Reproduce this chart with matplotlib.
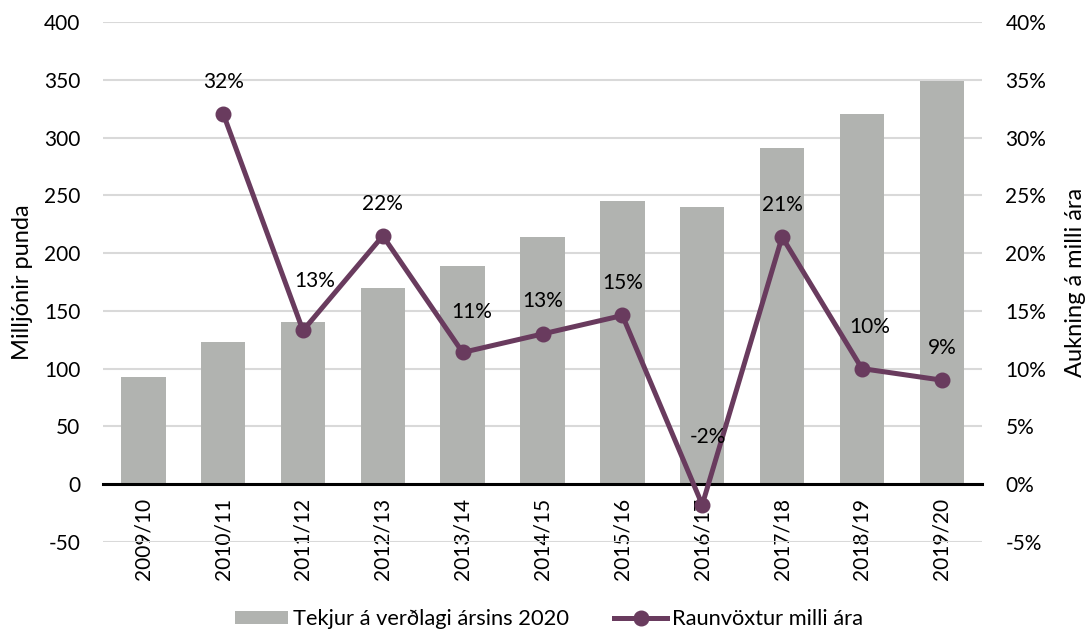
import matplotlib.pyplot as plt
import numpy as np
from matplotlib.ticker import FuncFormatter, MultipleLocator

plt.rcParams['font.family'] = ['Lato', 'DejaVu Sans']
plt.rcParams['axes.unicode_minus'] = False

years = ['2009/10', '2010/11', '2011/12', '2012/13', '2013/14', '2014/15',
         '2015/16', '2016/17', '2017/18', '2018/19', '2019/20']
# Tekjur (milljónir punda) á verðlagi 2020
revenue = [93, 123, 140, 170, 189, 214, 245, 240, 291, 321, 349]
# Raunvöxtur milli ára (%), ekkert gildi fyrir fyrsta árið
growth = [np.nan, 32.1, 13.3, 21.5, 11.4, 13.0, 14.6, -1.8, 21.4, 10.0, 9.0]

# label offsets above each point, in pixels
label_dx = [0, 0, 12, 0, 9, 0, 0, 6, 0, 8, 0]
label_dy = [0, 32, 49, 32, 40, 33, 32, 68, 32, 42, 32]

bar_color = '#B1B3B0'
line_color = '#693B5E'
fs = 15
fs_text = 15.75
fs_axis = 17

fig = plt.figure(figsize=(10.89, 6.32), dpi=100)
ax = fig.add_axes([0.0949, 0.1429, 0.8066, 0.8217])
ax2 = ax.twinx()

x = np.arange(len(years))
bars = ax.bar(x, revenue, width=0.557, color=bar_color, zorder=2,
              label='Tekjur á verðlagi ársins 2020')

ax.set_xlim(-0.5, len(years) - 0.5)
ax.set_ylim(-50, 400)
ax.yaxis.set_major_locator(MultipleLocator(50))
ax.grid(axis='y', color='#D9D9D9', linewidth=1.5, zorder=0)
ax.set_axisbelow(True)

for s in ['left', 'right', 'top']:
    ax.spines[s].set_visible(False)
ax.spines['bottom'].set_position(('data', 0))
ax.spines['bottom'].set_color('black')
ax.spines['bottom'].set_linewidth(2.2)
ax.spines['bottom'].set_zorder(3)

ax.set_xticks(x)
ax.set_xticklabels(years, rotation=90, fontsize=fs)
ax.tick_params(axis='x', length=0, pad=10)
ax.tick_params(axis='y', length=0, pad=16.5, labelsize=fs)

# right axis: growth in percent
line, = ax2.plot(x, growth, color=line_color, linewidth=3.6, marker='o',
                 markersize=10.5, zorder=4, label='Raunvöxtur milli ára')
ax2.set_ylim(-5, 40)
ax2.yaxis.set_major_locator(MultipleLocator(5))
ax2.yaxis.set_major_formatter(FuncFormatter(lambda v, p: f'{v:.0f}%'))
ax2.tick_params(axis='y', length=0, pad=17, labelsize=fs)
for s in ax2.spines.values():
    s.set_visible(False)

for xi, g, dx, dy in zip(x, growth, label_dx, label_dy):
    if np.isnan(g):
        continue
    ax2.annotate(f'{g:.0f}%', (xi, g), xytext=(dx, dy),
                 textcoords='offset pixels', ha='center', va='center',
                 fontsize=fs, zorder=5)

fig.text(23 / 1089, 1 - 282 / 632, 'Milljónir punda', rotation=90,
         ha='center', va='center', fontsize=fs_axis)
fig.text(1075 / 1089, 1 - 282 / 632, 'Aukning á milli ára', rotation=90,
         ha='center', va='center', fontsize=fs_axis)

fig.legend(handles=[bars, line], loc='center', ncol=2, frameon=False,
           bbox_to_anchor=(549 / 1089, 1 - 619 / 632), fontsize=fs_text,
           handlelength=2.38, handletextpad=0.23, columnspacing=2.1,
           handleheight=0.55)

fig.savefig('out.png', dpi=100)
